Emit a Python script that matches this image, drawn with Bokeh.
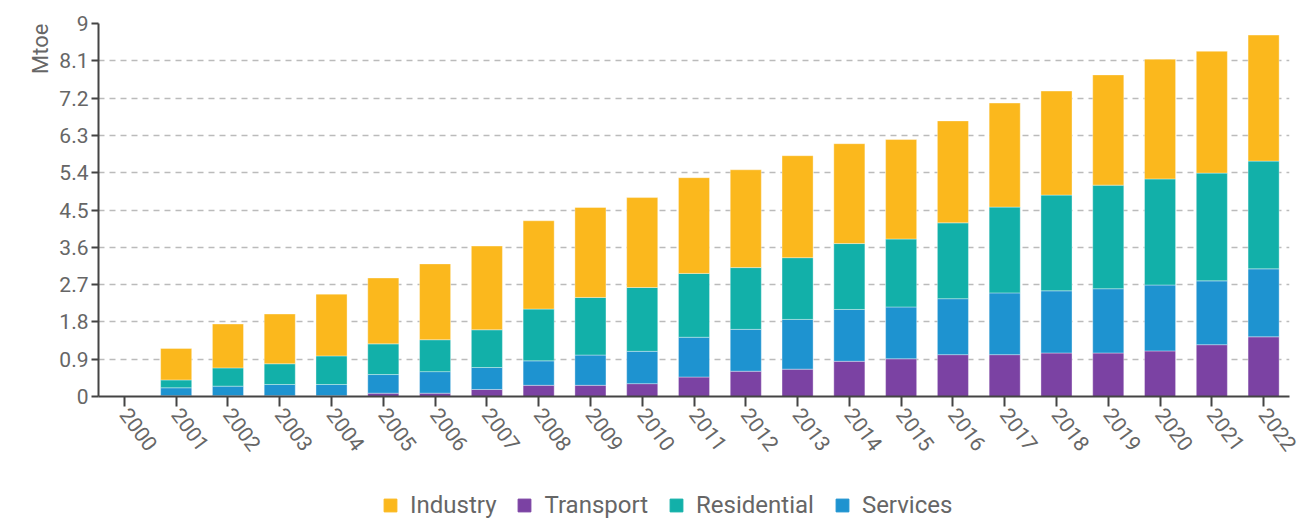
from bokeh.plotting import figure
from bokeh.layouts import column
from bokeh.models import (FactorRange, Range1d, FixedTicker, Legend, LegendItem,
                          Title, ColumnDataSource, CustomJSTickFormatter)
from bokeh.embed import file_html
from bokeh.resources import INLINE

years = [str(y) for y in range(2000, 2023)]
transport = [0, 0.02, 0.02, 0.02, 0.02, 0.08, 0.08, 0.17, 0.27, 0.27, 0.31, 0.47,
             0.61, 0.66, 0.85, 0.91, 1.01, 1.01, 1.05, 1.05, 1.10, 1.25, 1.44]
services = [0, 0.19, 0.23, 0.27, 0.27, 0.45, 0.52, 0.53, 0.59, 0.73, 0.78, 0.96,
            1.01, 1.20, 1.25, 1.25, 1.35, 1.49, 1.50, 1.55, 1.59, 1.54, 1.64]
residential = [0, 0.19, 0.44, 0.50, 0.69, 0.74, 0.77, 0.91, 1.25, 1.39, 1.54, 1.54,
               1.49, 1.49, 1.59, 1.64, 1.83, 2.07, 2.31, 2.50, 2.56, 2.60, 2.60]
industry = [0, 0.76, 1.06, 1.20, 1.49, 1.59, 1.83, 2.02, 2.13, 2.17, 2.17, 2.31,
            2.36, 2.46, 2.41, 2.40, 2.46, 2.51, 2.51, 2.66, 2.89, 2.94, 3.04]
yticks = [0, 0.9, 1.8, 2.7, 3.6, 4.5, 5.4, 6.3, 7.2, 8.1, 9]
legend_order = ["Industry", "Transport", "Residential", "Services"]

colors = {"Industry": "#FBB81D", "Transport": "#7B42A3",
          "Residential": "#12B0A9", "Services": "#1E93D0"}

src = ColumnDataSource(dict(year=years, Transport=transport, Services=services,
                            Residential=residential, Industry=industry))

FONT = "Roboto"
GREY = "#666666"

p = figure(x_range=FactorRange(*years, range_padding=0), y_range=Range1d(0, 9),
           width=1300, height=490,
           output_backend="svg", toolbar_location=None,
           min_border_left=98, min_border_right=11, min_border_top=23,
           min_border_bottom=94)
p.outline_line_color = None

stack = ["Transport", "Services", "Residential", "Industry"]
p.vbar_stack(stack, x="year", width=0.6, source=src,
             color=[colors[s] for s in stack],
             line_color="white", line_width=0.6, line_alpha=0.6)

p.yaxis.ticker = FixedTicker(ticks=yticks)
p.yaxis.formatter = CustomJSTickFormatter(code="return String(Number(tick.toFixed(1)));")
for ax in (p.xaxis, p.yaxis):
    ax.axis_line_color = "#444444"
    ax.axis_line_width = 2
    ax.major_tick_line_color = "#444444"
    ax.major_tick_line_width = 2
    ax.major_tick_in = 0
    ax.minor_tick_line_color = None
    ax.major_label_text_color = GREY
    ax.major_label_text_font = FONT
    ax.major_label_text_font_size = "21px"
p.yaxis.major_tick_out = 7
p.yaxis.major_label_standoff = 3
p.xaxis.major_tick_out = 10
p.xaxis.major_label_standoff = 4
p.xaxis.major_label_orientation = -0.93

p.xgrid.grid_line_color = None
p.ygrid.grid_line_color = "#bbbbbb"
p.ygrid.grid_line_width = 1.5
p.ygrid.grid_line_dash = "6 5"

p.add_layout(Title(text="Mtoe", align="right", text_color=GREY, text_font=FONT,
                   text_font_size="22px", text_font_style="normal", standoff=8), "left")

# legend strip below the chart (its frame is aligned with the chart's frame)
p2 = figure(width=1300, height=29, output_backend="svg", toolbar_location=None,
            x_axis_type=None, y_axis_type=None, min_border=0,
            x_range=Range1d(0, 1), y_range=Range1d(0, 1))
p2.outline_line_color = None
p2.grid.grid_line_color = None
items = []
for s in legend_order:
    # zero-size proxy bar: only its legend swatch is seen
    r = p2.vbar(x=[0], top=[0], bottom=[0], width=0, color=colors[s])
    items.append(LegendItem(label=s, renderers=[r]))

legend = Legend(items=items, orientation="horizontal", location=(284, 0),
                border_line_color=None, background_fill_alpha=0,
                label_text_color=GREY, label_text_font=FONT,
                label_text_font_size="24px", glyph_width=16, glyph_height=16,
                spacing=20, label_standoff=12, margin=0, padding=0)
p2.add_layout(legend, "center")

layout = column(p, p2, spacing=0)
open("out.html", "w").write(file_html(layout, INLINE))
